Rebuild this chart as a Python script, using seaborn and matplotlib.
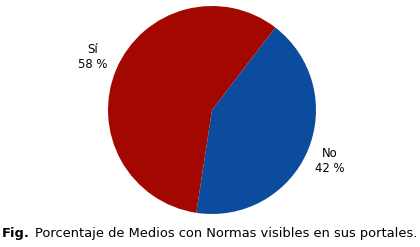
import matplotlib
matplotlib.use("Agg")
import matplotlib.pyplot as plt
import seaborn as sns

categories = ["No", "Sí"]
values = [42, 58]
labels = ["No\n42 %", "Sí\n58 %"]
colors = ["#0B4C9E", "#A30800"]
caption_bold = "Fig."
caption = "Porcentaje de Medios con Normas visibles en sus portales."

sns.set_theme(style="white")
plt.rcParams['font.family'] = ['DejaVu Sans']

W, H = 420, 247
fig = plt.figure(figsize=(W/100, H/100), dpi=100)
cx, cy, r = 212, 110, 104
ax = fig.add_axes([(cx - r)/W, (H - cy - r)/H, 2*r/W, 2*r/H])
ax.pie(values, colors=colors, startangle=52.5, counterclock=False,
       radius=1, wedgeprops=dict(linewidth=0))
ax.set_xlim(-1, 1)
ax.set_ylim(-1, 1)
ax.set_aspect('auto')
ax.axis('off')

def px(x, y):
    return x / W, 1 - y / H

# label positions (pixels, centre of the two-line block)
pos = {"No": (330, 161), "Sí": (93, 57)}
for cat, lab in zip(categories, labels):
    x, y = px(*pos[cat])
    fig.text(x, y, lab, ha='center', va='center', fontsize=8.4,
             color='black', linespacing=1.2)

x, y = px(2, 237)
t = fig.text(x, y, caption_bold, ha='left', va='baseline', fontsize=9.4,
             fontweight='bold', color='black')
fig.canvas.draw()
bb = t.get_window_extent()
x2 = (bb.x1 + 5) / W
fig.text(x2, y, caption, ha='left', va='baseline', fontsize=9.35, color='black')

fig.savefig("out.png", dpi=100, facecolor='white')
